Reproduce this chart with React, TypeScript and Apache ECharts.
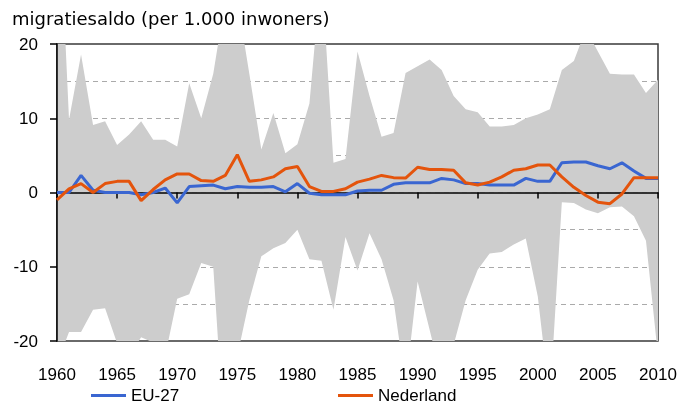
import React, { useEffect, useRef } from "react";
import * as echarts from "echarts";

const titleText = "migratiesaldo (per 1.000 inwoners)";

const years = [
  1960, 1961, 1962, 1963, 1964, 1965, 1966, 1967, 1968, 1969,
  1970, 1971, 1972, 1973, 1974, 1975, 1976, 1977, 1978, 1979,
  1980, 1981, 1982, 1983, 1984, 1985, 1986, 1987, 1988, 1989,
  1990, 1991, 1992, 1993, 1994, 1995, 1996, 1997, 1998, 1999,
  2000, 2001, 2002, 2003, 2004, 2005, 2006, 2007, 2008, 2009,
  2010,
];

const eu27 = [
  0.0, 0.0, 2.3, 0.3, 0.0, 0.0, 0.0, -0.3, 0.0, 0.6,
  -1.4, 0.8, 0.9, 1.0, 0.5, 0.8, 0.7, 0.7, 0.8, 0.1,
  1.2, -0.1, -0.3, -0.3, -0.3, 0.2, 0.3, 0.3, 1.1, 1.3,
  1.3, 1.3, 1.9, 1.7, 1.2, 1.2, 1.0, 1.0, 1.0, 1.9,
  1.5, 1.5, 4.0, 4.1, 4.1, 3.6, 3.2, 4.0, 2.9, 1.9,
  1.9,
];

const nederland = [
  -1.0, 0.5, 1.2, 0.0, 1.2, 1.5, 1.5, -1.1, 0.4, 1.7,
  2.5, 2.5, 1.6, 1.5, 2.3, 5.1, 1.5, 1.7, 2.1, 3.2,
  3.5, 0.8, 0.15, 0.15, 0.5, 1.4, 1.8, 2.3, 2.0, 1.95,
  3.4, 3.1, 3.1, 3.0, 1.3, 1.0, 1.4, 2.1, 3.0, 3.2,
  3.7, 3.7, 2.1, 0.7, -0.4, -1.3, -1.5, -0.2, 2.0, 2.0,
  2.0,
];

// hoogste en laagste migratiesaldo binnen de EU-27 (grijze band)
const bandMax = [
  45, 9.8, 18.6, 9.1, 9.6, 6.4, 7.8, 9.6, 7.1, 7.1,
  6.2, 14.7, 10.0, 16.0, 26, 26, 16, 5.8, 10.7, 5.3,
  6.5, 12, 30, 4.0, 4.5, 19, 13, 7.5, 8.0, 16.1,
  17, 17.9, 16.5, 13, 11.2, 10.8, 8.9, 8.9, 9.1, 10.0,
  10.5, 11.2, 16.5, 17.7, 22, 19, 16, 15.9, 15.9, 13.4,
  15.2,
];

const bandMin = [
  -23, -18.8, -18.8, -15.8, -15.6, -20.3, -22, -19.5, -20.2, -22,
  -14.3, -13.7, -9.5, -10, -35, -22, -14.5, -8.6, -7.5, -6.8,
  -5.0, -9.0, -9.2, -15.8, -6, -10.5, -5.5, -9, -14.5, -26,
  -12, -18.5, -25, -20.5, -14.5, -10.4, -8.2, -8, -7, -6.2,
  -14, -28, -1.3, -1.4, -2.3, -2.8, -2.0, -1.9, -3.2, -6.5,
  -22,
];

const xMin = 1960;
const xMax = 2010;
const xStep = 5;
const yMin = -20;
const yMax = 20;
const yStep = 10;

const BLUE = "#3a66d1";
const ORANGE = "#e4540c";
const GRAY = "#cdcdcd";
const FONT = "'Liberation Sans', Arial, sans-serif";

export default function App() {
  const ref = useRef<HTMLDivElement>(null);

  useEffect(() => {
    if (!ref.current) return;
    const chart = echarts.init(ref.current, null, { renderer: "svg" });
    const pts = (vals: number[]) => years.map((y, i) => [y, vals[i]]);

    const legendCommon = {
      orient: "horizontal",
      top: 387,
      padding: 0,
      itemWidth: 35,
      itemHeight: 3,
      icon: "rect",
      textStyle: { fontSize: 17, color: "#000", fontFamily: FONT, lineHeight: 17 },
    };

    chart.setOption({
      animation: false,
      title: {
        text: titleText,
        left: 12,
        top: 9,
        padding: 0,
        textStyle: {
          fontFamily: "'DejaVu Sans', sans-serif",
          fontSize: 18,
          fontWeight: "normal",
          color: "#000",
        },
      },
      grid: {
        left: 57,
        right: 24,
        top: 44,
        bottom: 65,
        show: true,
        borderColor: "#3a3a3a",
        borderWidth: 1.5,
        backgroundColor: "transparent",
        containLabel: false,
      },
      legend: [
        { ...legendCommon, left: 91, data: ["EU-27"] },
        { ...legendCommon, left: 338, data: ["Nederland"] },
      ],
      xAxis: [
        {
          type: "value",
          min: xMin,
          max: xMax,
          interval: xStep,
          position: "bottom",
          z: 10,
          axisLine: { show: true, onZero: true, lineStyle: { color: "#000", width: 1.5 } },
          axisTick: { show: true, length: 6, lineStyle: { color: "#000", width: 1.5 } },
          axisLabel: { show: false },
          splitLine: { show: false },
        },
        {
          type: "value",
          min: xMin,
          max: xMax,
          interval: xStep,
          position: "bottom",
          axisLine: { show: false, onZero: false },
          axisTick: { show: false },
          axisLabel: {
            show: true,
            margin: 25,
            fontSize: 17,
            color: "#000",
            fontFamily: FONT,
            formatter: (v: number) => String(v),
          },
          splitLine: { show: false },
        },
      ],
      yAxis: [
        {
          type: "value",
          min: yMin,
          max: yMax,
          interval: yStep,
          axisLine: { show: false, onZero: false },
          axisTick: { show: false },
          axisLabel: { show: false },
          splitLine: {
            show: true,
            showMinLine: false,
            showMaxLine: false,
            lineStyle: { color: "#aaaaaa", type: [5, 4], width: 1 },
          },
          minorTick: { show: false, splitNumber: 2 },
          minorSplitLine: {
            show: true,
            lineStyle: { color: "#aaaaaa", type: [5, 4], width: 1 },
          },
        },
        {
          type: "value",
          min: yMin,
          max: yMax,
          interval: yStep,
          position: "left",
          z: 10,
          axisLine: { show: true, onZero: false, lineStyle: { color: "#000", width: 1.5 } },
          axisTick: { show: true, length: 7, lineStyle: { color: "#000", width: 1.5 } },
          axisLabel: {
            margin: 19,
            fontSize: 17,
            color: "#000",
            fontFamily: FONT,
            formatter: (v: number) => String(v),
          },
          splitLine: { show: false },
        },
      ],
      series: [
        {
          name: "max",
          type: "line",
          data: pts(bandMax),
          symbol: "none",
          silent: true,
          z: 2,
          lineStyle: { width: 0, opacity: 0 },
          itemStyle: { color: GRAY },
          areaStyle: { color: GRAY, opacity: 1, origin: "auto" },
        },
        {
          name: "min",
          type: "line",
          data: pts(bandMin),
          symbol: "none",
          silent: true,
          z: 2,
          lineStyle: { width: 0, opacity: 0 },
          itemStyle: { color: GRAY },
          areaStyle: { color: GRAY, opacity: 1, origin: "auto" },
        },
        {
          name: "EU-27",
          type: "line",
          data: pts(eu27),
          symbol: "none",
          z: 20,
          lineStyle: { color: BLUE, width: 3 },
          itemStyle: { color: BLUE },
        },
        {
          name: "Nederland",
          type: "line",
          data: pts(nederland),
          symbol: "none",
          z: 20,
          lineStyle: { color: ORANGE, width: 3 },
          itemStyle: { color: ORANGE },
        },
      ],
    });

    return () => chart.dispose();
  }, []);

  return (
    <div
      ref={ref}
      style={{ position: "fixed", left: 0, top: 0, width: 682, height: 406 }}
    />
  );
}
